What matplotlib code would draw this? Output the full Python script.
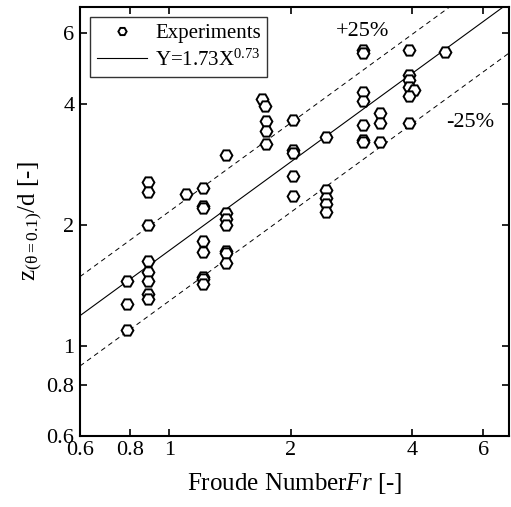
import numpy as np
import matplotlib.pyplot as plt
from matplotlib.ticker import FixedLocator, FixedFormatter, NullLocator

plt.rcParams['font.family'] = ['Liberation Serif', 'DejaVu Serif']
plt.rcParams['mathtext.fontset'] = 'custom'
plt.rcParams['mathtext.rm'] = 'Liberation Serif'
plt.rcParams['mathtext.it'] = 'Liberation Serif:italic'

fr = [0.783, 0.783, 0.783,
      0.884, 0.884, 0.884, 0.884, 0.884, 0.884, 0.884, 0.884,
      1.10,
      1.21, 1.21, 1.21, 1.21, 1.21, 1.21, 1.21, 1.21,
      1.38, 1.38, 1.38, 1.38, 1.38, 1.38, 1.38,
      1.70, 1.73, 1.74, 1.74, 1.74,
      2.03, 2.03, 2.03, 2.03, 2.03,
      2.44, 2.44, 2.44, 2.44, 2.44,
      3.02, 3.02, 3.02, 3.02, 3.02, 3.02, 3.02,
      3.32, 3.32, 3.32,
      3.93, 3.93, 3.93, 3.93, 4.04, 3.93, 3.93,
      4.82]
zd = [1.455, 1.27, 1.095,
      2.56, 2.41, 2.0, 1.63, 1.53, 1.45, 1.35, 1.31,
      2.39,
      2.47, 2.23, 2.20, 1.83, 1.71, 1.49, 1.47, 1.43,
      2.99, 2.14, 2.07, 2.0, 1.72, 1.70, 1.61,
      4.10, 3.94, 3.62, 3.43, 3.17,
      3.65, 3.07, 3.02, 2.64, 2.36,
      3.31, 2.44, 2.33, 2.26, 2.15,
      5.43, 5.33, 4.28, 4.06, 3.55, 3.26, 3.21,
      3.79, 3.59, 3.21,
      5.43, 4.71, 4.58, 4.39, 4.33, 4.17, 3.58,
      5.38]

a, b = 1.73, 0.73
ticks = [0.6, 0.8, 1, 2, 4, 6]
tick_labels = ['0.6', '0.8', '1', '2', '4', '6']

fig = plt.figure(figsize=(5.11, 5.07), dpi=100)
ax = fig.add_axes([0.1566, 0.1406, 0.8395, 0.8455])

xx = np.array([0.6, 7.0])
ax.plot(xx, a * xx**b, color='black', lw=0.8, label='Y=1.73X$^{0.73}$')
ax.plot(xx, 1.25 * a * xx**b, color='black', lw=0.7, ls=(0, (5, 4)))
ax.plot(xx, 0.75 * a * xx**b, color='black', lw=0.7, ls=(0, (5, 4)))
ax.plot(fr, zd, ls='none', marker='H', ms=8.5, mfc='white', mec='black',
        mew=1.4, label='Experiments')

ax.set_xscale('log')
ax.set_yscale('log')
ax.set_xlim(0.6, 6.95)
ax.set_ylim(0.6, 6.95)
for axis in (ax.xaxis, ax.yaxis):
    axis.set_major_locator(FixedLocator(ticks))
    axis.set_major_formatter(FixedFormatter(tick_labels))
    axis.set_minor_locator(NullLocator())
ax.tick_params(which='both', direction='in', top=True, right=True,
               length=5, width=1.2, labelsize=16, pad=4)
for s in ax.spines.values():
    s.set_linewidth(1.5)

ax.set_xlabel('Froude Number$\\it{Fr}$ [-]', fontsize=18, labelpad=8)
ax.set_ylabel('z$_{(\\mathregular{θ=0.1})}$/d [-]', fontsize=18, labelpad=2)

ax.text(3.02, 6.05, '+25%', fontsize=16, ha='center', va='center')
ax.text(5.56, 3.59, '-25%', fontsize=16, ha='center', va='center')

h, l = ax.get_legend_handles_labels()
leg = ax.legend([h[1], h[0]], [l[1], l[0]], loc='upper left', fontsize=15,
                frameon=True, fancybox=False, edgecolor='black',
                borderaxespad=0.5, handlelength=2.4, markerscale=0.7,
                borderpad=0.3, labelspacing=0.3, handletextpad=0.4)
leg.get_frame().set_linewidth(1.0)

fig.savefig('out.png', dpi=100)
